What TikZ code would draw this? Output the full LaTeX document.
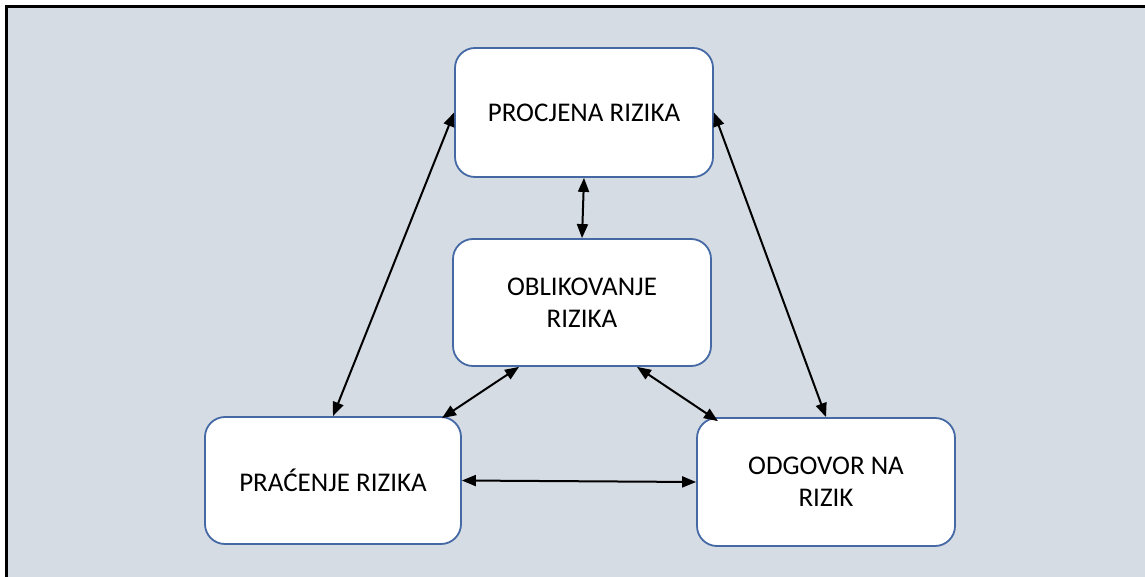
\documentclass[tikz,border=0pt]{standalone}
\usepackage{fontspec}
\setmainfont{Carlito}
\usetikzlibrary{arrows.meta}
\definecolor{bgc}{RGB}{214,220,228}
\definecolor{boxc}{RGB}{68,105,165}
\tikzset{
  riskbox/.style={draw=boxc, fill=white, line width=1.8pt, rounded corners=20pt,
    inner sep=0pt, align=center, font=\fontsize{27}{32}\selectfont},
  link/.style={line width=2pt, {Triangle[length=14pt,width=11pt]}-{Triangle[length=14pt,width=11pt]}}
}
\begin{document}
\begin{tikzpicture}[x=1pt,y=-1pt]
\useasboundingbox (0,0) rectangle (1145,577);
\fill[bgc] (8,8) rectangle (1145,577);
\draw[line width=3pt] (6.5,577) -- (6.5,7) -- (1145,7);
\node[riskbox, minimum width=258pt, minimum height=129pt] (proc) at (584,112.5) {PROCJENA RIZIKA};
\node[riskbox, minimum width=258pt, minimum height=127pt] (oblik) at (582,302.5) {OBLIKOVANJE\\RIZIKA};
\node[riskbox, minimum width=256pt, minimum height=127pt] (prac) at (333,480.5) {PRAĆENJE RIZIKA};
\node[riskbox, minimum width=258pt, minimum height=128pt] (odg) at (826,482) {ODGOVOR NA\\RIZIK};
\draw[link] (proc.west) -- (prac.north);
\draw[link] (proc.east) -- (odg.north);
\draw[link] (proc.south) -- (oblik.north);
\draw[link] ([xshift=-63pt]oblik.south) -- ([xshift=109pt,yshift=-2pt]prac.north);
\draw[link] ([xshift=55pt]oblik.south) -- ([xshift=-108pt,yshift=-4pt]odg.north);
\draw[link] (prac.east) -- (odg.west);
\end{tikzpicture}
\end{document}
